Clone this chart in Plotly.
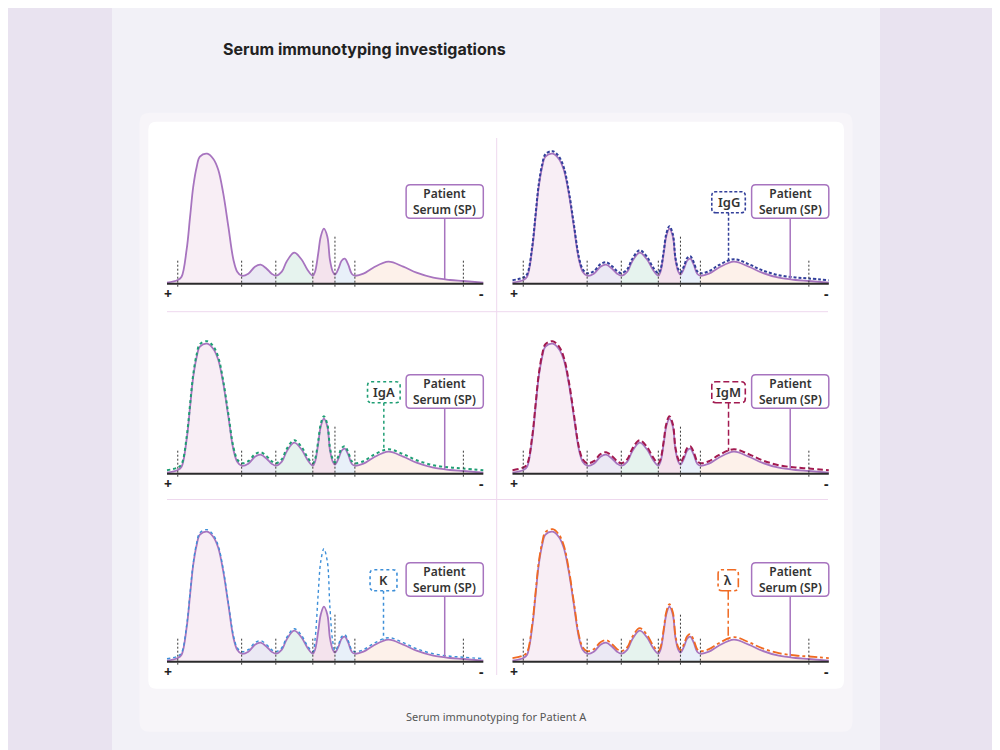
import numpy as np
import plotly.graph_objects as go

# electrophoretic mobility (0 = anode "+", 100 = cathode "-")
sp_x = [0, 3.4, 4.6, 6.2, 7.3, 8.3, 9.4, 10.4, 12.7, 14.6, 16.2, 17.8, 19.4, 21.0, 22.2, 23.6,
        25.7, 27.8, 29.6, 31.5, 33.1, 34.4,
        36.3, 37.8, 40.2, 42.6, 44.4, 46.1,
        46.8, 47.8, 48.6, 49.6, 50.7, 51.5, 52.4, 53.1,
        54.2, 55.2, 56.2, 57.3, 58.4, 59.4,
        62.1, 65.2, 70.0, 74.7, 78.9, 84.2, 89.5, 93.7, 100]
# patient serum (SP) density
sp_y = [1, 3.7, 7, 34, 67, 97, 117, 127, 130, 125, 114, 90, 57, 24, 12, 8,
        10, 17, 19, 15, 10, 8,
        12, 22, 31, 24, 14, 8,
        12, 30, 47, 55, 47, 24, 12, 9,
        15, 23, 25, 19, 10, 8,
        10, 16, 22, 17, 11, 6, 3.7, 2.7, 1]
# kappa light chain trace (monoclonal spike in the beta zone)
kappa_y = [3, 5.5, 9, 36, 69, 99, 119, 129, 132, 127, 116, 92, 59, 26, 14, 10,
           12, 19, 21, 17, 12, 10,
           14, 24, 33, 26, 16, 10,
           22, 68, 100, 113, 100, 55, 20, 11,
           17, 25, 27, 21, 12, 10,
           12, 18, 24, 19, 13, 8, 5.5, 4.5, 3]

zone_bounds = [0, 23.6, 34.4, 46.1, 53.1, 59.4, 100]
marker_x = [3.4, 23.6, 34.4, 46.1, 53.1, 59.4, 93.7]
marker_h = [24, 24, 24, 24, 48, 24, 24]

panel_labels = ["", "IgG", "IgA", "IgM", "K", "λ"]

zone_colors = ["#f8eef5", "#ebe9f4", "#e6f3ee", "#f4e3ed", "#e8f0f9", "#fdf1ea"]
SP_COLOR = "#a774bf"
overlay_style = {
    "IgG": dict(color="#33409b", dash="3px,2px", width=2),
    "IgA": dict(color="#1f9e74", dash="dot", width=2),
    "IgM": dict(color="#a21a50", dash="6px,3px", width=2),
    "K": dict(color="#3d8fd8", dash="dot", width=1.4),
    "λ": dict(color="#f06a22", dash="dashdot", width=1.8),
}
label_box = {"IgG": (63.0, 73.6), "IgA": (63.4, 73.7), "IgM": (63.0, 73.6),
             "K": (64.2, 72.7), "λ": (65.0, 71.4)}

# page has an 8px body margin, so the figure sits at (8, 8) in the window
OFF = 8
W, H = 992, 742
PXU = 3.163          # pixels per mobility unit
LIFT = 2.5           # visual offset of immunofixation outline
col_left = [167.0, 512.5]
row_base = [283.7, 473.7, 661.7]


def fx(px):
    return (px - OFF) / W


def fy(py):
    return 1 - (py - OFF) / H


fig = go.Figure()
shapes = []
annotations = []


def rrect(x0, x1, y0, y1, rx, ry):
    return (f"M{x0+rx},{y0} L{x1-rx},{y0} Q{x1},{y0} {x1},{y0+ry} L{x1},{y1-ry} "
            f"Q{x1},{y1} {x1-rx},{y1} L{x0+rx},{y1} Q{x0},{y1} {x0},{y1-ry} "
            f"L{x0},{y0+ry} Q{x0},{y0} {x0+rx},{y0} Z")


def prect(px0, px1, py0, py1, r, color):
    # rounded rect in window pixels -> paper
    return dict(type="path", xref="paper", yref="paper", layer="below",
                path=rrect(fx(px0), fx(px1), fy(py1), fy(py0), r / W, r / H),
                fillcolor=color, line=dict(width=0))


# page backgrounds
shapes.append(dict(type="rect", xref="paper", yref="paper", x0=fx(112), x1=fx(880), y0=0, y1=1,
                   fillcolor="#f2f1f7", line_width=0, layer="below"))
shapes.append(prect(139.5, 852.5, 112.7, 731.8, 10, "#f7f5f9"))
shapes.append(prect(148.3, 844, 121.7, 688.8, 8, "#ffffff"))
# grid dividers
div = dict(color="#eed8ee", width=1)
shapes.append(dict(type="line", xref="paper", yref="paper", x0=fx(496.7), x1=fx(496.7),
                   y0=fy(675), y1=fy(138), line=div, layer="below"))
for py in [311.7, 499.5]:
    shapes.append(dict(type="line", xref="paper", yref="paper", x0=fx(167), x1=fx(828),
                       y0=fy(py), y1=fy(py), line=div, layer="below"))

xr = [-2, 102]
yr = [-16, 150]
for i, lab in enumerate(panel_labels):
    col, row = i % 2, i // 2
    n = i + 1
    xa, ya = ("x" if n == 1 else f"x{n}"), ("y" if n == 1 else f"y{n}")
    x0px = col_left[col]
    base = row_base[row]
    fig.layout[f"xaxis{'' if n == 1 else n}"] = dict(
        domain=[fx(x0px + xr[0] * PXU), fx(x0px + xr[1] * PXU)],
        range=xr, visible=False, fixedrange=True, anchor=ya)
    fig.layout[f"yaxis{'' if n == 1 else n}"] = dict(
        domain=[fy(base - yr[0]), fy(base - yr[1])],
        range=yr, visible=False, fixedrange=True, anchor=xa)

    # coloured zones under the SP curve
    for z in range(len(zone_bounds) - 1):
        a, b = zone_bounds[z], zone_bounds[z + 1]
        zx = [x for x in sp_x if a <= x <= b]
        zy = [y for x, y in zip(sp_x, sp_y) if a <= x <= b]
        fig.add_trace(go.Scatter(x=zx, y=zy, mode="lines", line=dict(width=0, shape="spline"),
                                 fill="tozeroy", fillcolor=zone_colors[z], hoverinfo="skip",
                                 showlegend=False, xaxis=xa, yaxis=ya))

    # patient serum outline
    fig.add_trace(go.Scatter(x=sp_x, y=sp_y, mode="lines",
                             line=dict(color=SP_COLOR, width=1.8, shape="spline"),
                             name="Patient Serum (SP)", showlegend=False, xaxis=xa, yaxis=ya))

    # baseline, zone markers, +/- poles
    shapes.append(dict(type="line", xref=xa, yref=ya, x0=0, x1=100, y0=0, y1=0,
                       line=dict(color="#2b2b2b", width=2)))
    for mx, mh in zip(marker_x, marker_h):
        shapes.append(dict(type="line", xref=xa, yref=ya, x0=mx, x1=mx, y0=-3, y1=mh,
                           line=dict(color="#3a3a3a", width=1, dash="2px,2px")))
    annotations.append(dict(xref=xa, yref=ya, x=0.4, y=-10, text="<b>+</b>", showarrow=False,
                            font=dict(size=14, color="#222", family="Noto Sans")))
    annotations.append(dict(xref=xa, yref=ya, x=99.4, y=-10, text="<b>-</b>", showarrow=False,
                            font=dict(size=14, color="#222", family="Noto Sans")))

    # SP label box
    shapes.append(dict(type="line", xref=xa, yref=ya, x0=87.8, x1=87.8, y0=65.5,
                       y1=float(np.interp(87.8, sp_x, sp_y)), line=dict(color=SP_COLOR, width=1.5)))
    shapes.append(dict(type="path", xref=xa, yref=ya, path=rrect(75.6, 100, 65.5, 99, 1.3, 4),
                       fillcolor="white", line=dict(color=SP_COLOR, width=1.5)))
    annotations.append(dict(xref=xa, yref=ya, x=87.8, y=82.3, text="Patient<br>Serum (SP)",
                            showarrow=False, font=dict(size=12, color="#333", family="Noto Sans",
                                                       weight=600)))

    if lab:
        st = overlay_style[lab]
        oy = kappa_y if lab == "K" else [v + LIFT for v in sp_y]
        fig.add_trace(go.Scatter(x=sp_x, y=oy, mode="lines",
                                 line=dict(color=st["color"], width=st["width"], dash=st["dash"],
                                           shape="spline"),
                                 name=lab, showlegend=False, xaxis=xa, yaxis=ya))
        bx0, bx1 = label_box[lab]
        cx = (bx0 + bx1) / 2
        cy = float(np.interp(cx, sp_x, oy))
        shapes.append(dict(type="line", xref=xa, yref=ya, x0=cx, x1=cx, y0=71, y1=cy,
                           line=dict(color=st["color"], width=1.5, dash=st["dash"])))
        shapes.append(dict(type="path", xref=xa, yref=ya, path=rrect(bx0, bx1, 71, 92, 1.3, 4),
                           fillcolor="white",
                           line=dict(color=st["color"], width=1.6, dash=st["dash"])))
        annotations.append(dict(xref=xa, yref=ya, x=cx, y=81.5, text=lab, showarrow=False,
                                font=dict(size=13, color="#333", family="Noto Sans", weight=600)))

annotations.append(dict(xref="paper", yref="paper", x=fx(221), y=fy(49), xanchor="left",
                        yanchor="middle", text="Serum immunotyping investigations", showarrow=False,
                        font=dict(size=16, color="#222", family="Inter", weight=700)))
annotations.append(dict(xref="paper", yref="paper", x=fx(496), y=fy(716), xanchor="center",
                        yanchor="middle", text="Serum immunotyping for Patient A", showarrow=False,
                        font=dict(size=11, color="#555", family="Noto Sans")))

fig.update_layout(
    width=W, height=H,
    margin=dict(l=0, r=0, t=0, b=0),
    paper_bgcolor="#e9e3f0",
    plot_bgcolor="rgba(0,0,0,0)",
    shapes=shapes,
    annotations=annotations,
    showlegend=False,
)

fig.write_html("out.html")
